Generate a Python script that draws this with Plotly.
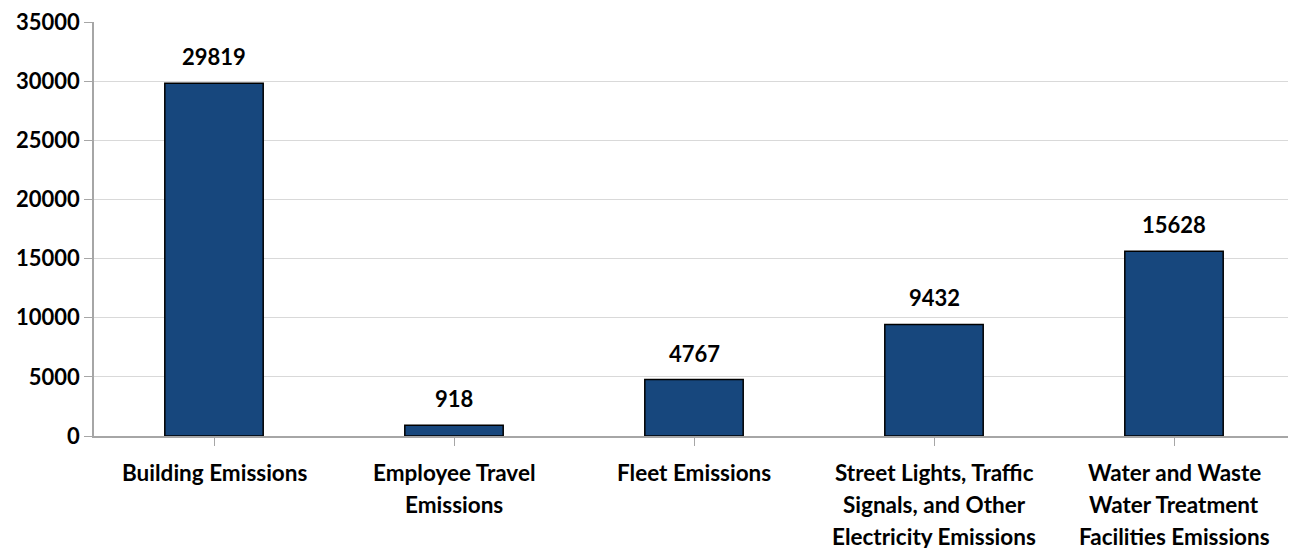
import plotly.graph_objects as go

categories = ["Building Emissions", "Employee Travel<br>Emissions", "Fleet Emissions",
              "Street Lights, Traffic<br>Signals, and Other<br>Electricity Emissions",
              "Water and Waste<br>Water Treatment<br>Facilities Emissions"]
values = [29819, 918, 4767, 9432, 15628]
y_ticks = [0, 5000, 10000, 15000, 20000, 25000, 30000, 35000]

FONT = "Lato"
xs = list(range(len(categories)))
fig = go.Figure(go.Bar(
    x=xs, y=values,
    marker=dict(color="#17477D", line=dict(color="#000000", width=1.5)),
    width=0.41,
))
annotations = []
for i, v in enumerate(values):
    annotations.append(dict(x=i, y=v, xref="x", yref="y", text=str(v), showarrow=False,
                            yanchor="bottom", yshift=11,
                            font=dict(family=FONT, size=22, color="#000000", weight="bold")))
for i, c in enumerate(categories):
    for j, line in enumerate(c.split("<br>")):
        annotations.append(dict(x=i, y=0, xref="x", yref="paper", text=line, showarrow=False,
                                yanchor="middle", yshift=-36 - 32 * j,
                                font=dict(family=FONT, size=22.5, color="#000000", weight="bold")))
fig.update_layout(
    width=1288, height=548, margin=dict(l=86, r=2, t=14, b=120),
    plot_bgcolor="white", paper_bgcolor="white", showlegend=False,
    font=dict(family=FONT, size=22, color="#000000", weight="bold"),
    annotations=annotations,
)
fig.update_yaxes(range=[0, 35000], tickvals=y_ticks, ticktext=[str(t) for t in y_ticks],
                 showgrid=True, gridcolor="#D9D9D9", gridwidth=1,
                 showline=True, linecolor="#A6A6A6", linewidth=1.5,
                 ticks="outside", ticklen=8, tickcolor="#A6A6A6", zeroline=False,
                 automargin=False, ticklabeloverflow="allow",
                 tickfont=dict(family=FONT, size=22, weight="bold"))
fig.update_xaxes(range=[-0.5, 4.5], tickvals=xs, ticktext=["" for _ in xs],
                 showline=True, linecolor="#A6A6A6", linewidth=1.5,
                 ticks="outside", ticklen=8, tickcolor="#A6A6A6", tickson="boundaries",
                 showgrid=False, automargin=False)
fig.write_html("out.html")
